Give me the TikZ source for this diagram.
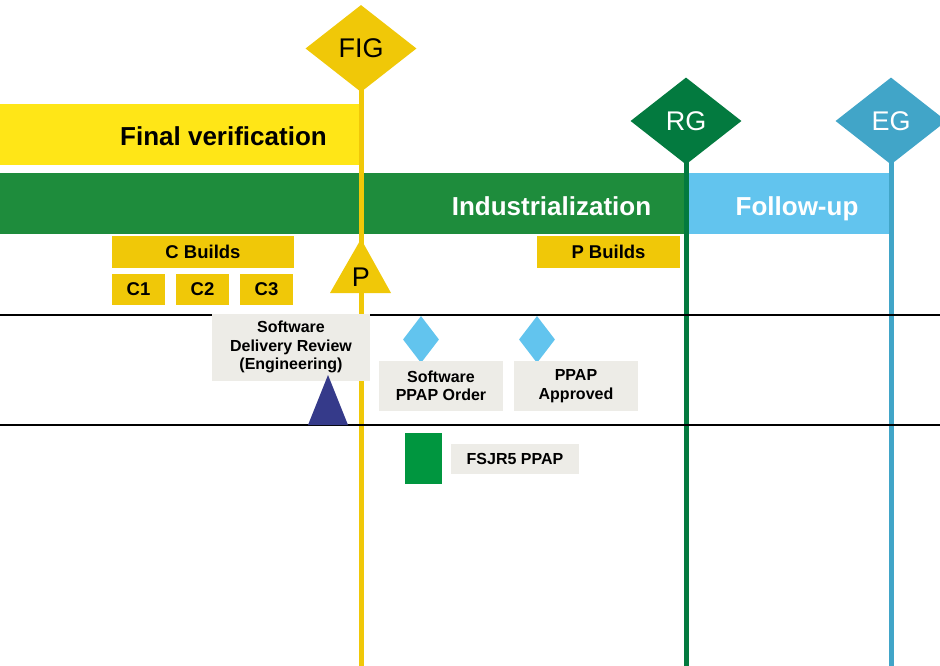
\documentclass[tikz,border=0pt]{standalone}
\usepackage{fontspec}
\setmainfont{Liberation Sans}
\usetikzlibrary{shapes.geometric}

\definecolor{verifyellow}{HTML}{FFE617}
\definecolor{gateyellow}{HTML}{F0C808}
\definecolor{indgreen}{HTML}{1E8C3C}
\definecolor{rggreen}{HTML}{037A3F}
\definecolor{followblue}{HTML}{62C4EE}
\definecolor{egblue}{HTML}{41A5C8}
\definecolor{notegray}{HTML}{EDECE7}
\definecolor{swnavy}{HTML}{353A8A}
\definecolor{ppapgreen}{HTML}{00963F}

\begin{document}
\begin{tikzpicture}[x=1pt,y=-1pt,
    phase/.style={font=\fontsize{26}{30}\selectfont\bfseries, inner sep=0pt, anchor=base},
    gate/.style={diamond, aspect=1.28, minimum width=111pt, minimum height=87pt,
        inner sep=0pt, font=\fontsize{27}{30}\selectfont},
    gateline/.style={line width=5pt},
    build/.style={fill=gateyellow, inner sep=0pt, font=\fontsize{18.5}{20}\selectfont\bfseries},
    note/.style={fill=notegray, inner sep=0pt, align=center,
        font=\fontsize{16}{18.5}\selectfont\bfseries},
    swdiamond/.style={diamond, fill=followblue, aspect=0.77, minimum width=36pt,
        minimum height=47pt, inner sep=0pt},
    lane/.style={line width=2pt}]
    \useasboundingbox[fill=white] (0,0) rectangle (940,666);

    % Phase bars
    \fill[verifyellow] (0,104) rectangle (359,165);
    \fill[indgreen] (0,173) rectangle (687,234);
    \fill[followblue] (687,173) rectangle (889,234);
    \node[phase] (verif) at (223.5,146) {Final verification};
    \node[phase, white] (indus) at (551.5,215) {Industrialization};
    \node[phase, white] (follow) at (797,215) {Follow-up};

    % Gate lines
    \coordinate (figend) at (361,666);
    \coordinate (rgend) at (686,666);
    \coordinate (egend) at (891,666);
    \node[gate] (fig) at (361,48.5) {};
    \node[gate] (rg) at (686,121) {};
    \node[gate] (eg) at (891,121) {};
    \draw[gateline, gateyellow] (fig.center) -- (figend);
    \draw[gateline, rggreen] (rg.center) -- (rgend);
    \draw[gateline, egblue] (eg.center) -- (egend);

    % Swim lanes
    \coordinate (laneA west) at (0,315);
    \coordinate (laneA east) at (940,315);
    \coordinate (laneB west) at (0,425);
    \coordinate (laneB east) at (940,425);
    \draw[lane] (laneA west) -- (laneA east);
    \draw[lane] (laneB west) -- (laneB east);

    % Gates
    \node[gate, fill=gateyellow] at (fig) {\raisebox{-2pt}{FIG}};
    \node[gate, fill=rggreen, text=white] at (rg) {\raisebox{-2pt}{RG}};
    \node[gate, fill=egblue, text=white] at (eg) {\raisebox{-2pt}{EG}};

    % Builds
    \node[build, minimum width=182pt, minimum height=32pt] (cbuilds) at (203,252) {C Builds};
    \node[build, minimum width=53pt, minimum height=31pt] (c1) at (138.5,289.5) {C1};
    \node[build, minimum width=53pt, minimum height=31pt] (c2) at (202.5,289.5) {C2};
    \node[build, minimum width=53pt, minimum height=31pt] (c3) at (266.5,289.5) {C3};
    \node[build, minimum width=143pt, minimum height=32pt] (pbuilds) at (608.5,252) {P Builds};
    \fill[gateyellow] (330,293) -- (361,239) -- (391,293) -- cycle;
    \node[inner sep=0pt, font=\fontsize{27}{30}\selectfont] (p) at (361,277) {P};

    % Software lane
    \node[note, minimum width=158pt, minimum height=67pt] (sdr) at (291,347)
        {Software\\Delivery Review\\(Engineering)};
    \fill[swnavy] (308,425) -- (328,375) -- (348,425) -- cycle;
    \node[swdiamond] (swd1) at (421,339.5) {};
    \node[swdiamond] (swd2) at (537,339.5) {};
    \node[note, minimum width=124pt, minimum height=50pt] (swppap) at (441,386)
        {Software\\PPAP Order};
    \node[note, minimum width=124pt, minimum height=50pt] (ppapok) at (576,386)
        {PPAP\\Approved};

    % Supplier lane
    \fill[ppapgreen] (405,433) rectangle (442,484);
    \node[note, minimum width=128pt, minimum height=30pt] (fsjr) at (515,459) {FSJR5 PPAP};
\end{tikzpicture}
\end{document}
